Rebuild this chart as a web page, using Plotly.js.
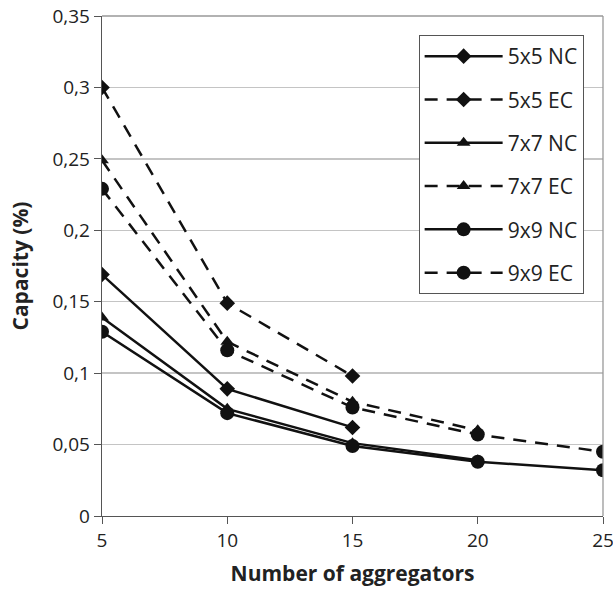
<!DOCTYPE html>
<html>
<head>
<meta charset="utf-8">
<script src="https://cdn.plot.ly/plotly-3.0.1.min.js"></script>
<style>html,body{margin:0;padding:0;background:#fff;}#chart{width:613px;height:589px;}</style>
</head>
<body>
<div id="chart"></div>
<script>
const aggregators = [5, 10, 15, 20, 25];
const seriesNames = ["5x5 NC", "5x5 EC", "7x7 NC", "7x7 EC", "9x9 NC", "9x9 EC"];
const cap5x5NC = [0.169, 0.089, 0.062];
const cap5x5EC = [0.300, 0.149, 0.098];
const cap7x7NC = [0.139, 0.075, 0.051, 0.039];
const cap7x7EC = [0.249, 0.122, 0.080, 0.060];
const cap9x9NC = [0.129, 0.072, 0.049, 0.038, 0.032];
const cap9x9EC = [0.229, 0.116, 0.076, 0.057, 0.045];
const yTicks = [0, 0.05, 0.1, 0.15, 0.2, 0.25, 0.3, 0.35];

const allValues = [cap5x5NC, cap5x5EC, cap7x7NC, cap7x7EC, cap9x9NC, cap9x9EC];
const symbols = ["diamond", "diamond", "triangle-up", "triangle-up", "circle", "circle"];
const sizes = [12, 12, 12, 12, 14, 14];
const dashes = ["solid", "dash", "solid", "dash", "solid", "dash"];

const traces = allValues.map((vals, i) => ({
  x: aggregators.slice(0, vals.length),
  y: vals,
  name: seriesNames[i],
  legendgroup: "g" + i,
  type: "scatter",
  mode: "lines+markers",
  line: {color: "#111", width: 2.5, dash: dashes[i] === "dash" ? "13px,9px" : "solid"},
  marker: {symbol: symbols[i], size: sizes[i], color: "#111"}
}));

const layout = {
  width: 613, height: 589,
  margin: {l: 102, r: 10, t: 16, b: 73},
  paper_bgcolor: "#fff", plot_bgcolor: "#fff",
  separators: ", ",
  font: {family: "Open Sans, sans-serif", color: "#222", size: 19},
  showlegend: true,
  legend: {
    x: 0.632, y: 0.962, xanchor: "left", yanchor: "top",
    bordercolor: "#555", borderwidth: 1, bgcolor: "#fff",
    font: {size: 21, color: "#222"},
    tracegroupgap: 13,
    itemwidth: 78
  },
  xaxis: {
    range: [5, 25], tickvals: aggregators, ticks: "outside", ticklen: 7, tickcolor: "#555",
    showline: true, linecolor: "#555", linewidth: 1.3, showgrid: false, zeroline: false,
    mirror: false, ticklabeloverflow: "allow",
    title: {text: "<b>Number of aggregators</b>", font: {size: 21, color: "#222"}, standoff: 14},
    tickfont: {size: 19}
  },
  yaxis: {
    range: [0, 0.35], tickvals: yTicks, ticks: "outside", ticklen: 7, tickcolor: "#555",
    showline: true, linecolor: "#555", linewidth: 1.3, showgrid: true, gridcolor: "#c4c4c4", gridwidth: 1.3,
    zeroline: false,
    title: {text: "<b>Capacity (%)</b>", font: {size: 21, color: "#222"}, standoff: 18},
    tickfont: {size: 19}
  },
  shapes: [
    {type: "line", xref: "paper", yref: "paper", x0: 0, x1: 1, y0: 1, y1: 1, line: {color: "#999", width: 1.3}},
    {type: "line", xref: "paper", yref: "paper", x0: 1, x1: 1, y0: 0, y1: 1, line: {color: "#999", width: 1.3}}
  ]
};

Plotly.newPlot("chart", traces, layout, {displayModeBar: false, staticPlot: true});
</script>
</body>
</html>
